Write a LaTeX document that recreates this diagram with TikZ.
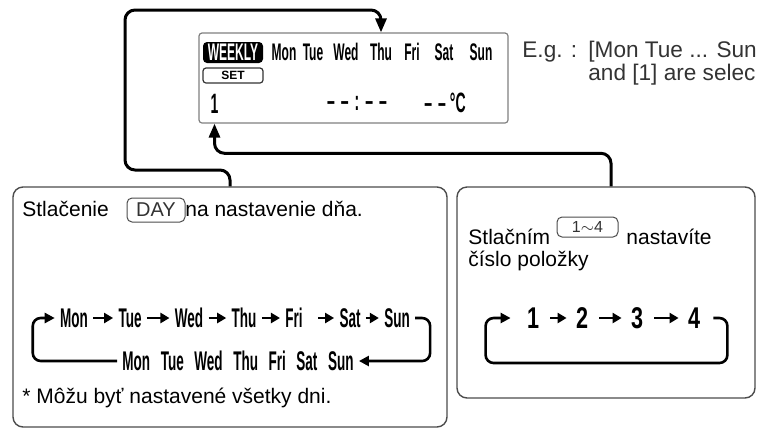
\documentclass[tikz,border=0pt]{standalone}
\usepackage{fontspec}
\setmainfont{Liberation Sans}
\newfontfamily\lcdfont[FakeStretch=0.5]{Liberation Sans}
\newfontfamily\numfont[FakeStretch=0.72]{Liberation Sans}
\usetikzlibrary{arrows.meta}
\newcommand{\wsp}{\hspace{5.3pt}}

\begin{document}
\begin{tikzpicture}[x=0.5pt, y=-0.5pt,
  panel/.style={draw=black!70, line width=0.7pt, rounded corners=5pt},
  lcdbox/.style={draw=black!50, line width=0.6pt, rounded corners=1.5pt,
                 minimum width=154.5pt, minimum height=45pt},
  keybox/.style={draw=black!70, line width=0.5pt, rounded corners=2.5pt,
                 inner sep=0pt, text=black!80},
  txt/.style={anchor=west, inner sep=0pt, font=\fontsize{10.5}{12.6}\selectfont},
  egtxt/.style={anchor=west, inner sep=0pt, text=black!80,
                font=\fontsize{11.3}{13.5}\selectfont},
  lcdday/.style={inner sep=0pt, font=\lcdfont\bfseries\fontsize{12}{12}\selectfont},
  lcdbig/.style={inner sep=0pt, font=\lcdfont\bfseries\fontsize{14}{14}\selectfont},
  cycday/.style={inner sep=2.5pt, font=\lcdfont\bfseries\fontsize{13.5}{13.5}\selectfont},
  cycnum/.style={inner sep=2.5pt, font=\numfont\bfseries\fontsize{15}{15}\selectfont},
  flow/.style={line width=1.5pt, rounded corners=5pt, -{Triangle[length=7pt,width=5.5pt]}},
  loopar/.style={line width=1.3pt, rounded corners=4pt, -{Triangle[length=5pt,width=5pt]}},
  steparr/.style={line width=1.3pt, -{Triangle[length=4.5pt,width=5pt]}}
]
  \useasboundingbox (0,0) rectangle (765,435);

  % display
  \node[lcdbox] (lcd) at (353.5,78) {};
  \node[fill=black, text=white, rounded corners=2pt, inner sep=0pt,
        minimum width=30pt, minimum height=10.5pt,
        font=\lcdfont\bfseries\fontsize{12}{12}\selectfont] (weekly) at (233,52.5) {WEEKLY};
  \foreach \d/\x in {Mon/284, Tue/313, Wed/346, Thu/381, Fri/412, Sat/444, Sun/481}
    \node[lcdday] (l\d) at (\x,52) {\d};
  \node[draw=black!80, line width=0.6pt, rounded corners=1.5pt, inner sep=0pt,
        minimum width=30pt, minimum height=7.5pt,
        font=\bfseries\fontsize{6}{6}\selectfont] (set) at (233,75.5) {SET};
  \node[lcdbig] (one) at (214.5,104) {1};
  \node[lcdbig] (clock) at (357,103)
    {–\hspace{3pt}–\hspace{3pt}:\hspace{3pt}–\hspace{3pt}–};
  \node[lcdbig] (temp) at (445,103) {–\hspace{3pt}–\hspace{2pt}°C};

  \node[egtxt] (eg) at (522,52) {E.g. :};
  \node[egtxt] (egdays) at (588,52) {[Mon Tue ... Sun};
  \node[egtxt] (egnum) at (588,75) {and [1] are selec};

  % panels
  \node[panel, minimum width=217pt, minimum height=120pt] (lbox) at (230,307) {};
  \node[panel, minimum width=149pt, minimum height=105.5pt] (rbox) at (606,292.5) {};

  \draw[flow] (lbox.north) |- (125,170) -- (125,10) -| (lThu |- lcd.north);
  \draw[flow] ([xshift=2.5pt]rbox.north) -- ++(0,-33) -| (one |- lcd.south);

  % day panel
  \node[txt] (lpress) at (22,209) {Stlačenie};
  \node[keybox, minimum width=29pt, minimum height=12pt,
        font=\fontsize{10}{10}\selectfont] (daykey) at (156,210) {DAY};
  \node[txt] (lset) at (185,209) {na nastavenie dňa.};
  \foreach \d/\x in {Mon/74, Tue/130, Wed/189, Thu/244, Fri/294, Sat/350, Sun/397}
    \node[cycday] (c\d) at (\x,318) {\d};
  \foreach \a/\b in {Mon/Tue, Tue/Wed, Wed/Thu, Thu/Fri, Sat/Sun}
    \draw[steparr] (c\a) -- (c\b);
  \draw[steparr, shorten <=5pt] (cFri) -- (cSat);
  \node[cycday] (cAll) at (238,361) {Mon\wsp Tue\wsp Wed\wsp Thu\wsp Fri\wsp Sat\wsp Sun};
  \draw[loopar] (cSun.east) -- ++(15,0) |- (cAll.east);
  \draw[loopar] (cAll.west) -| ([xshift=-11pt]cMon.west) -- (cMon.west);
  \node[txt] (note) at (22,398) {* Môžu byť nastavené všetky dni.};

  % item panel
  \node[txt] (rpress) at (468,237) {Stlačním};
  \node[keybox, minimum width=30.5pt, minimum height=10pt,
        font=\fontsize{8}{8}\selectfont] (numkey) at (587.5,227) {1$\sim$4};
  \node[txt] (rset) at (626,237) {nastavíte};
  \node[txt] (ritem) at (468,261) {číslo položky};
  \foreach \n/\x in {1/533, 2/582, 3/637, 4/694}
    \node[cycnum] (n\n) at (\x,318) {\n};
  \foreach \a/\b in {1/2, 2/3, 3/4}
    \draw[steparr, shorten <=3pt, shorten >=2pt] (n\a) -- (n\b);
  \draw[loopar] ([xshift=4pt]n4.east) -- ++(14,0) -- ++(0,45)
    -| ([xshift=-18pt]n1.west) -- ([xshift=-5.5pt]n1.west);
\end{tikzpicture}
\end{document}
